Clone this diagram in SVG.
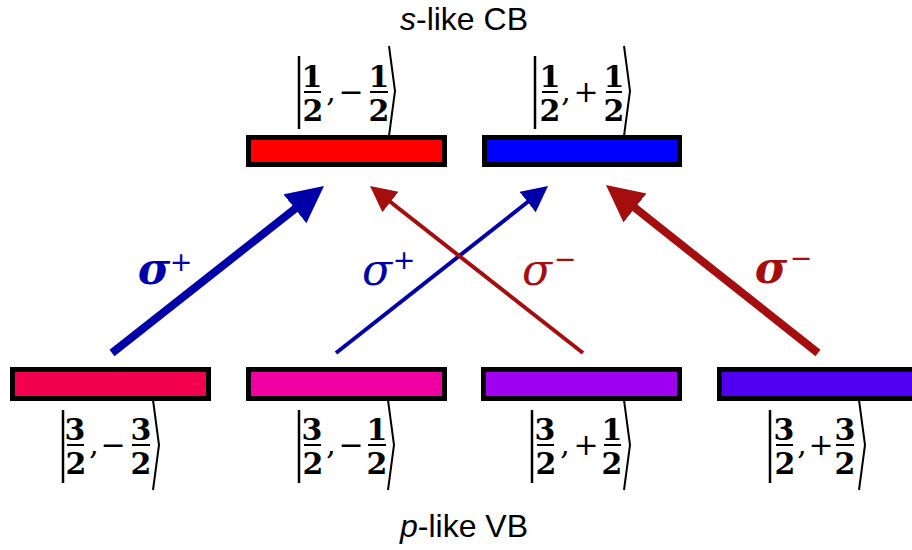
<svg xmlns="http://www.w3.org/2000/svg" width="912" height="550" viewBox="0 0 912 550">
<style>
.box{stroke:#000;stroke-width:5}
.title{font-family:"Liberation Sans",Arial,sans-serif;font-size:32px;fill:#000}
.dg{font-family:"DejaVu Serif",serif;font-weight:bold;font-size:30px;text-anchor:middle;fill:#000}
.op{font-family:"DejaVu Serif",serif;font-size:30px;text-anchor:middle;fill:#000}
.ln{stroke:#000;stroke-width:2.5;fill:none}
.fb{stroke:#000;stroke-width:2}
.br{stroke:#000;stroke-width:2;fill:none;stroke-linejoin:miter}
.sig{font-family:"DejaVu Serif",serif;font-style:italic;font-size:44px;text-anchor:middle}
.sup{font-family:"DejaVu Sans",sans-serif;font-size:27px;text-anchor:middle}
.b{font-weight:bold}
.blue{fill:#0000A8}
.red{fill:#A50E0E}
.ab{stroke:#0000A8;fill:none}
.ar{stroke:#A50E0E;fill:none}
.thick{stroke-width:8}
.thin{stroke-width:4}
</style>
<defs>
<marker id="hbk" markerUnits="userSpaceOnUse" markerWidth="38" markerHeight="38" refX="2" refY="18.5" orient="auto"><path d="M0,0 L37,18.5 L0,37 z" fill="#0000A8"/></marker>
<marker id="hbn" markerUnits="userSpaceOnUse" markerWidth="27" markerHeight="27" refX="2" refY="13" orient="auto"><path d="M0,0 L26,13 L0,26 z" fill="#0000A8"/></marker>
<marker id="hrk" markerUnits="userSpaceOnUse" markerWidth="38" markerHeight="38" refX="2" refY="18.5" orient="auto"><path d="M0,0 L37,18.5 L0,37 z" fill="#A50E0E"/></marker>
<marker id="hrn" markerUnits="userSpaceOnUse" markerWidth="27" markerHeight="27" refX="2" refY="13" orient="auto"><path d="M0,0 L26,13 L0,26 z" fill="#A50E0E"/></marker>
</defs>
<rect width="912" height="550" fill="#fff"/>

<text class="title" x="464" y="30" text-anchor="middle"><tspan font-style="italic">s</tspan>-like CB</text>
<text class="title" x="464" y="537" text-anchor="middle"><tspan font-style="italic">p</tspan>-like VB</text>

<g id="cb-down">
<rect class="box" x="248.5" y="137.5" width="196" height="27" fill="#FF0000"/>
<line class="ln" x1="299" y1="56" x2="299" y2="129"/>
<text class="dg" x="312" y="87">1</text><line class="fb" x1="304" y1="92" x2="321" y2="92"/><text class="dg" x="313" y="121">2</text>
<text class="op" x="331" y="101">,</text>
<text class="op" x="351" y="102">−</text>
<text class="dg" x="379" y="87">1</text><line class="fb" x1="370" y1="92" x2="388" y2="92"/><text class="dg" x="379" y="121">2</text>
<polyline class="br" points="389,46 395,91 389,136"/>
</g>

<g id="cb-up">
<rect class="box" x="484.5" y="137.5" width="195" height="27" fill="#0000FF"/>
<line class="ln" x1="535" y1="56" x2="535" y2="129"/>
<text class="dg" x="550" y="87">1</text><line class="fb" x1="542" y1="92" x2="558" y2="92"/><text class="dg" x="550" y="121">2</text>
<text class="op" x="566" y="101">,</text>
<text class="op" x="586" y="102">+</text>
<text class="dg" x="614" y="87">1</text><line class="fb" x1="606" y1="92" x2="622" y2="92"/><text class="dg" x="614" y="121">2</text>
<polyline class="br" points="624,46 630,91 624,136"/>
</g>

<g id="vb-m32">
<rect class="box" x="12.5" y="369.5" width="196" height="29" fill="#F0004F"/>
<line class="ln" x1="63" y1="410" x2="63" y2="483"/>
<text class="dg" x="75" y="440">3</text><line class="fb" x1="67" y1="445" x2="84" y2="445"/><text class="dg" x="76" y="474">2</text>
<text class="op" x="94" y="454">,</text>
<text class="op" x="113" y="455">−</text>
<text class="dg" x="141" y="440">3</text><line class="fb" x1="132" y1="445" x2="150" y2="445"/><text class="dg" x="141" y="474">2</text>
<polyline class="br" points="153,400 159,445 153,490"/>
</g>

<g id="vb-m12">
<rect class="box" x="248.5" y="369.5" width="196" height="29" fill="#F000A0"/>
<line class="ln" x1="299" y1="410" x2="299" y2="483"/>
<text class="dg" x="312" y="440">3</text><line class="fb" x1="304" y1="445" x2="321" y2="445"/><text class="dg" x="313" y="474">2</text>
<text class="op" x="331" y="454">,</text>
<text class="op" x="351" y="455">−</text>
<text class="dg" x="377" y="440">1</text><line class="fb" x1="368" y1="445" x2="386" y2="445"/><text class="dg" x="377" y="474">2</text>
<polyline class="br" points="388,400 394,445 388,490"/>
</g>

<g id="vb-p12">
<rect class="box" x="483.5" y="369.5" width="196" height="29" fill="#A000F0"/>
<line class="ln" x1="532" y1="410" x2="532" y2="483"/>
<text class="dg" x="545" y="440">3</text><line class="fb" x1="537" y1="445" x2="554" y2="445"/><text class="dg" x="546" y="474">2</text>
<text class="op" x="565" y="454">,</text>
<text class="op" x="586" y="455">+</text>
<text class="dg" x="612" y="440">1</text><line class="fb" x1="604" y1="445" x2="621" y2="445"/><text class="dg" x="612" y="474">2</text>
<polyline class="br" points="624,400 630,445 624,490"/>
</g>

<g id="vb-p32">
<rect class="box" x="719.5" y="369.5" width="196" height="29" fill="#5000F0"/>
<line class="ln" x1="770" y1="410" x2="770" y2="483"/>
<text class="dg" x="784" y="440">3</text><line class="fb" x1="776" y1="445" x2="793" y2="445"/><text class="dg" x="785" y="474">2</text>
<text class="op" x="802" y="454">,</text>
<text class="op" x="821" y="455">+</text>
<text class="dg" x="845" y="440">3</text><line class="fb" x1="836" y1="445" x2="854" y2="445"/><text class="dg" x="845" y="474">2</text>
<polyline class="br" points="859,400 865,445 859,490"/>
</g>

<g id="connectors">
<line class="ab thick" x1="112" y1="353" x2="296.5" y2="207.6" marker-end="url(#hbk)"/>
<line class="ab thin" x1="336" y1="353" x2="529.2" y2="200.8" marker-end="url(#hbn)"/>
<line class="ar thin" x1="583" y1="353" x2="388.9" y2="200.8" marker-end="url(#hrn)"/>
<line class="ar thick" x1="818" y1="353" x2="633.4" y2="206.7" marker-end="url(#hrk)"/>
</g>

<g id="labels">
<text class="sig b blue" x="154" y="284">σ</text><text class="sup blue" x="181" y="271">+</text>
<text class="sig blue" x="377" y="285">σ</text><text class="sup blue" x="404" y="269">+</text>
<text class="sig red" x="537" y="285">σ</text><text class="sup red" x="565" y="268">−</text>
<text class="sig b red" x="771" y="283">σ</text><text class="sup red" x="801" y="267">−</text>
</g>
</svg>
